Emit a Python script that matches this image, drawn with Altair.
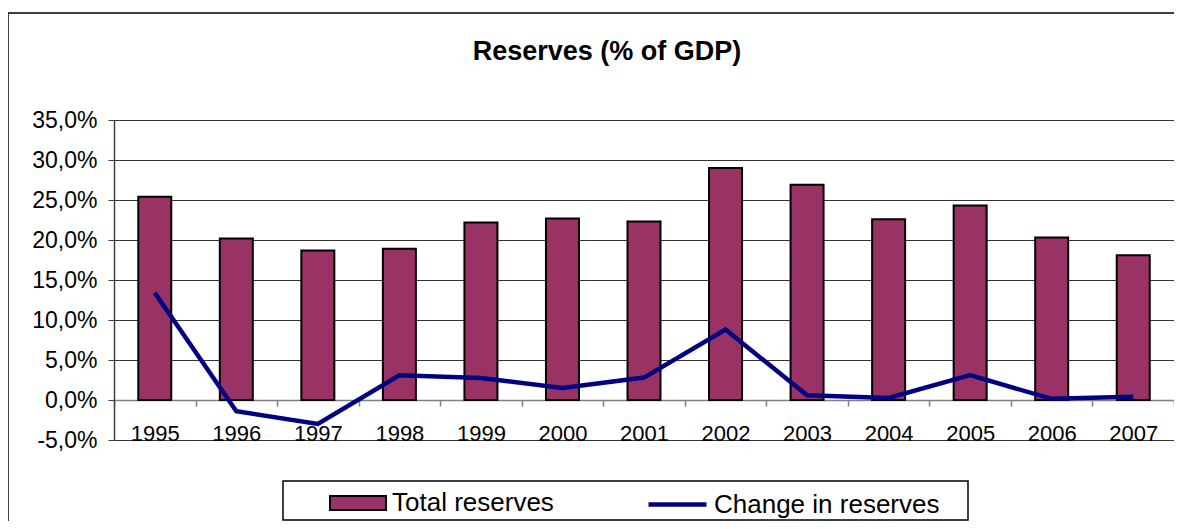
import altair as alt
import pandas as pd

YEARS = ["1995", "1996", "1997", "1998", "1999", "2000", "2001",
         "2002", "2003", "2004", "2005", "2006", "2007"]
TOTAL = [25.4, 20.2, 18.7, 18.9, 22.2, 22.7, 22.3, 29.0, 26.9, 22.6, 24.3, 20.3, 18.1]
CHANGE = [13.4, -1.4, -3.0, 3.1, 2.75, 1.5, 2.8, 8.8, 0.6, 0.25, 3.1, 0.15, 0.4]
SERIES = ["Total reserves", "Change in reserves"]
TITLE = "Reserves (% of GDP)"
Y_TICKS = [-5, 0, 5, 10, 15, 20, 25, 30, 35]

bars_df = pd.DataFrame({"year": YEARS, "value": TOTAL, "series": SERIES[0]})
line_df = pd.DataFrame({"year": YEARS, "value": CHANGE, "series": SERIES[1]})
dummy = pd.DataFrame({"k": [0]})

W, H = 1060, 320
FONT = "Liberation Sans"
BAR_COLOR = "#993366"
LINE_COLOR = "#000080"

x_axis = alt.Axis(title=None, orient="bottom", offset=-40, labelAngle=0,
                  labelFontSize=22, labelFont=FONT, labelColor="black",
                  labelPadding=17, tickBand="extent", tickSize=6,
                  tickColor="#808080", tickWidth=1.5, domainColor="#808080",
                  domainWidth=1.5, grid=False, labelOverlap=False)
y_axis = alt.Axis(title=None, values=Y_TICKS, labelOverlap=False,
                  labelExpr="replace(replace(format(datum.value, '.1f'), '.', ','), '\u2212', '-') + '%'",
                  labelFontSize=23, labelFont=FONT, labelColor="black",
                  labelPadding=11, tickSize=6, tickColor="#404040",
                  domainColor="#404040", domainWidth=1.5,
                  grid=True, gridColor="#333333", gridWidth=1)

x_enc = alt.X("year:N", sort=YEARS,
              scale=alt.Scale(paddingInner=0, paddingOuter=0), axis=x_axis)
y_enc = alt.Y("value:Q", scale=alt.Scale(domain=[-5, 35], nice=False, zero=False),
              axis=y_axis)

bars = alt.Chart(bars_df).mark_bar(size=33, stroke="black", strokeWidth=2).encode(
    x=x_enc, y=y_enc,
    fill=alt.Fill("series:N", scale=alt.Scale(domain=[SERIES[0]], range=[BAR_COLOR]),
                  legend=alt.Legend(title=None, orient="none", legendX=215, legendY=354,
                                    padding=0, symbolType="M-1,-0.25H1V0.25H-1Z",
                                    symbolSize=3136, symbolStrokeColor="black",
                                    symbolStrokeWidth=2, symbolFillColor=BAR_COLOR,
                                    labelFont=FONT, labelFontSize=26, labelColor="black",
                                    labelOffset=5, labelLimit=400)),
)

line = alt.Chart(line_df).mark_line(strokeWidth=4.5).encode(
    x=x_enc, y=y_enc,
    stroke=alt.Stroke("series:N", scale=alt.Scale(domain=[SERIES[1]], range=[LINE_COLOR]),
                      legend=alt.Legend(title=None, orient="none", legendX=532, legendY=353,
                                        padding=0, symbolType="stroke", symbolSize=3364,
                                        symbolStrokeWidth=4.5, labelFont=FONT,
                                        labelFontSize=26, labelColor="black",
                                        labelOffset=5, labelLimit=400)),
)

frame = alt.Chart(dummy).mark_rect(filled=False, stroke="black", strokeWidth=1.5, clip=False).encode(
    x=alt.value(-106), x2=alt.value(W + 30), y=alt.value(-107), y2=alt.value(H + 120)
)
legend_box = alt.Chart(dummy).mark_rect(filled=False, stroke="black", strokeWidth=1.5, clip=False).encode(
    x=alt.value(169), x2=alt.value(854), y=alt.value(361), y2=alt.value(400)
)
title = alt.Chart(dummy).mark_text(font=FONT, fontSize=27, fontWeight="bold",
                                   align="center", baseline="alphabetic", clip=False).encode(
    x=alt.value(493), y=alt.value(-60), text=alt.value(TITLE)
)

chart = alt.layer(frame, legend_box, bars, line, title).properties(
    width=W, height=H,
    autosize=alt.AutoSizeParams(type="none"),
    padding={"left": 106, "top": 112, "right": 0, "bottom": 81},
).configure_view(
    stroke="#808080", strokeWidth=2
).configure_axis(
    labelOverlap=False
).configure(background="white")

chart.save("out.html", embed_options={"renderer": "svg", "actions": False})
